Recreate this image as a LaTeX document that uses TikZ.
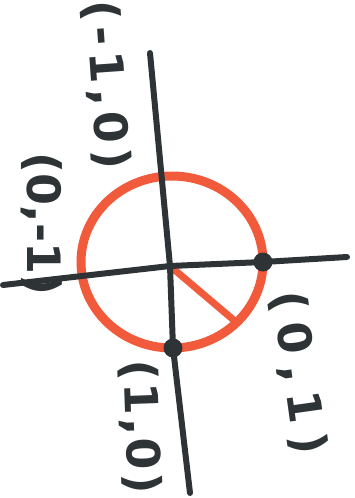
\documentclass[tikz,border=0pt]{standalone}
\usepackage{fontspec}
\setsansfont{DejaVu Sans}
\usepackage{xcolor}
\definecolor{ink}{HTML}{2E3336}
\definecolor{marker}{HTML}{F25A3C}

\begin{document}
\begin{tikzpicture}[
    x=1pt, y=-1pt,
    axis/.style={draw=ink, line width=6pt, line cap=round, line join=round},
    unit/.style={draw=marker, line width=9pt},
    dot/.style={circle, fill=ink, inner sep=0pt, minimum size=19pt},
    lbl/.style={font=\sffamily\bfseries\fontsize{46}{50}\selectfont
                \addfontfeature{LetterSpace=#1},
                text=ink, inner sep=0pt},
    lbl/.default=0
  ]
  \useasboundingbox (0,0) rectangle (355,498);
  \coordinate (c)      at (172,262);
  \coordinate (o)      at (170,266);
  \coordinate (rim)    at (236,322);
  \coordinate (vtop)   at (150,53);
  \coordinate (vbot)   at (190,493);
  \coordinate (hleft)  at (3,285);
  \coordinate (hright) at (347,257);

  \draw[unit] (c) ellipse [x radius=91, y radius=86];
  \draw[unit, line width=7pt] (o) -- (rim);

  \node[dot] (pone) at (263,262) {};
  \node[dot] (ptwo) at (173,348) {};

  \draw[axis] (vtop) -- (o) -- (ptwo.center) -- (vbot);
  \draw[axis] (hleft) -- (o) -- (pone.center) -- (hright);

  \node[lbl=12, rotate=-86] (lxneg) at (106,85)  {(-1,0)};
  \node[lbl, rotate=-90]    (lyneg) at (42,224)  {(0,-1)};
  \node[lbl=22, rotate=-82] (lypos) at (298,373) {(0,1)};
  \node[lbl=6, rotate=-88]  (lxpos) at (140,427) {(1,0)};
\end{tikzpicture}
\end{document}
